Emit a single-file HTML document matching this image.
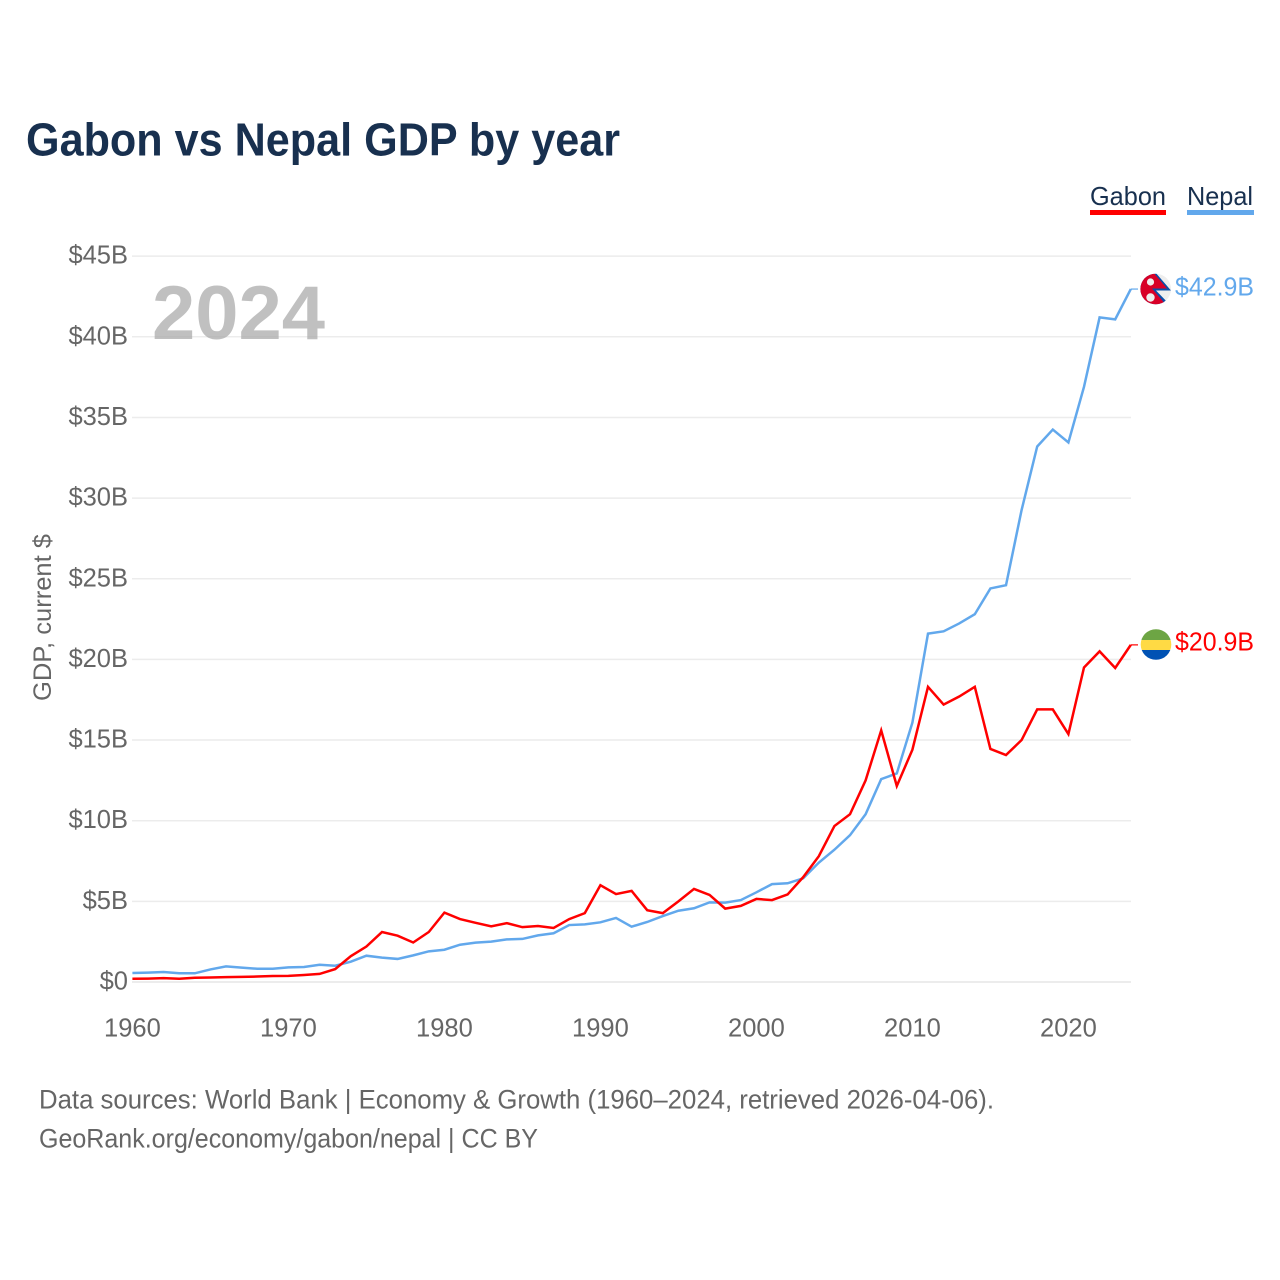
<!DOCTYPE html>
<html lang="en">
<head>
<meta charset="utf-8">
<title>Gabon vs Nepal GDP by year</title>
<style>
html,body{margin:0;padding:0;background:#fff;width:1280px;height:1280px;overflow:hidden}
svg{display:block;font-family:"Liberation Sans",sans-serif}
</style>
</head>
<body>
<svg id="chart" xmlns="http://www.w3.org/2000/svg" width="1280" height="1280" viewBox="0 0 1280 1280">
  <rect width="1280" height="1280" fill="#fff"/>
  <text x="26" y="155.5" font-size="46" font-weight="700" fill="#18304f" textLength="594" lengthAdjust="spacingAndGlyphs">Gabon vs Nepal GDP by year</text>

  <g>
    <text x="1090" y="205" font-size="26" fill="#18304f" textLength="76" lengthAdjust="spacingAndGlyphs">Gabon</text>
    <rect x="1090" y="210" width="76" height="5" fill="#ff0000"/>
  </g>
  <g>
    <text x="1187" y="205" font-size="26" fill="#18304f" textLength="66" lengthAdjust="spacingAndGlyphs">Nepal</text>
    <rect x="1187" y="210" width="67" height="5" fill="#62a8ec"/>
  </g>

  <g id="grid"></g>
  <g id="yticks"></g>
  <g id="xticks"></g>

  <text x="152" y="339" font-size="76" font-weight="700" fill="#a8a8a8" fill-opacity="0.72" textLength="173" lengthAdjust="spacingAndGlyphs">2024</text>

  <text transform="translate(51,701) rotate(-90)" font-size="25" fill="#666" textLength="167" lengthAdjust="spacingAndGlyphs">GDP, current $</text>

  <g id="series"></g>

  <defs>
    <clipPath id="clip-nepal"><circle cx="1155.7" cy="289" r="15.3"/></clipPath>
    <clipPath id="clip-gabon"><circle cx="1156" cy="644.5" r="15.3"/></clipPath>
  </defs>
  <g id="flag-nepal" clip-path="url(#clip-nepal)">
    <rect x="1140" y="273" width="32" height="32" fill="#eeeeee"/>
    <polygon points="1140,272 1155,272 1171,290.5 1156,290.5 1171,306 1140,306" fill="#0a4fa8"/>
    <polygon points="1140,272 1153,272 1167,288.5 1152,288.5 1167,306 1140,306" fill="#d80027"/>
    <circle cx="1150.5" cy="282" r="3.6" fill="#eee"/>
    <circle cx="1150.5" cy="297.5" r="4.2" fill="#eee"/>
  </g>
  <g id="flag-gabon" clip-path="url(#clip-gabon)">
    <rect x="1140" y="629" width="32" height="11" fill="#6da544"/>
    <rect x="1140" y="640" width="32" height="10" fill="#ffda44"/>
    <rect x="1140" y="650" width="32" height="11" fill="#0052b4"/>
  </g>

  <text x="1175" y="295.5" font-size="26" fill="#62a8ec" textLength="79" lengthAdjust="spacingAndGlyphs">$42.9B</text>
  <text x="1175" y="650.5" font-size="26" fill="#ff0000" textLength="79" lengthAdjust="spacingAndGlyphs">$20.9B</text>

  <text x="39" y="1108.5" font-size="27" fill="#666" textLength="955" lengthAdjust="spacingAndGlyphs">Data sources: World Bank | Economy &amp; Growth (1960–2024, retrieved 2026-04-06).</text>
  <a><text x="39" y="1147.5" font-size="27" fill="#666" textLength="499" lengthAdjust="spacingAndGlyphs">GeoRank.org/economy/gabon/nepal | CC BY</text></a>
</svg>

<script>
const startYear = 1960;
const yTicks = [0, 5, 10, 15, 20, 25, 30, 35, 40, 45];
const yTickLabels = ["$0", "$5B", "$10B", "$15B", "$20B", "$25B", "$30B", "$35B", "$40B", "$45B"];
const xTicks = [1960, 1970, 1980, 1990, 2000, 2010, 2020];
const xTickLabels = ["1960", "1970", "1980", "1990", "2000", "2010", "2020"];
const gabonValues = [0.2, 0.21, 0.24, 0.2, 0.26, 0.28, 0.3, 0.32, 0.34, 0.37, 0.38, 0.43, 0.5, 0.8, 1.6, 2.2, 3.1, 2.87, 2.45, 3.1, 4.3, 3.9, 3.67, 3.45, 3.65, 3.4, 3.47, 3.35, 3.9, 4.27, 6.0, 5.45, 5.65, 4.45, 4.27, 5.0, 5.77, 5.4, 4.55, 4.72, 5.15, 5.08, 5.43, 6.5, 7.8, 9.67, 10.4, 12.5, 15.6, 12.15, 14.4, 18.3, 17.2, 17.7, 18.3, 14.45, 14.07, 15.0, 16.9, 16.9, 15.37, 19.5, 20.5, 19.47, 20.9];
const nepalValues = [0.56, 0.58, 0.62, 0.54, 0.54, 0.78, 0.97, 0.89, 0.82, 0.82, 0.91, 0.93, 1.07, 1.01, 1.26, 1.63, 1.51, 1.43, 1.65, 1.9, 2.0, 2.31, 2.44, 2.5, 2.64, 2.67, 2.89, 3.02, 3.53, 3.57, 3.7, 3.97, 3.43, 3.72, 4.09, 4.42, 4.57, 4.94, 4.92, 5.08, 5.56, 6.07, 6.12, 6.43, 7.4, 8.2, 9.1, 10.4, 12.58, 12.93, 16.08, 21.6, 21.74, 22.23, 22.8, 24.4, 24.6, 29.26, 33.2, 34.25, 33.45, 36.9, 41.2, 41.08, 42.96];

const NS = 'http://www.w3.org/2000/svg';
function xScale(year) { return 132.4 + (year - 1960) * 15.6; }
function yScale(v) { return 982 - v * 16.13; }

const grid = document.getElementById('grid');
const yt = document.getElementById('yticks');
yTicks.forEach(function (t, i) {
  const ln = document.createElementNS(NS, 'line');
  
  
  ln.setAttribute('x1', 132);
  ln.setAttribute('x2', 1131);
  ln.setAttribute('y1', yScale(t));
  ln.setAttribute('y2', yScale(t));
  ln.setAttribute('stroke', '#ececec');
  ln.setAttribute('stroke-width', t === 0 ? 2 : 1.5);
  grid.appendChild(ln);
  const tx = document.createElementNS(NS, 'text');
  
  
  tx.setAttribute('x', 128);
  tx.setAttribute('y', yScale(t) + 7.5);
  tx.setAttribute('text-anchor', 'end');
  tx.setAttribute('font-size', 25.5);
  tx.setAttribute('fill', '#666');
  tx.textContent = yTickLabels[i];
  yt.appendChild(tx);
});

const xt = document.getElementById('xticks');
xTicks.forEach(function (t, i) {
  const tx = document.createElementNS(NS, 'text');
  
  
  tx.setAttribute('x', xScale(t));
  tx.setAttribute('y', 1036.5);
  tx.setAttribute('text-anchor', 'middle');
  tx.setAttribute('font-size', 25.5);
  tx.setAttribute('fill', '#666');
  tx.textContent = xTickLabels[i];
  xt.appendChild(tx);
});

function pathFrom(values) {
  return values.map(function (v, i) {
    return (i ? 'L' : 'M') + xScale(startYear + i).toFixed(2) + ' ' + yScale(v).toFixed(2);
  }).join(' ');
}
const seriesGroup = document.getElementById('series');

const nepalLine = document.createElementNS(NS, 'path');


nepalLine.setAttribute('d', pathFrom(nepalValues));
nepalLine.setAttribute('fill', 'none');
nepalLine.setAttribute('stroke', '#62a8ec');
nepalLine.setAttribute('stroke-width', 2.5);
seriesGroup.appendChild(nepalLine);

const gabonLine = document.createElementNS(NS, 'path');


gabonLine.setAttribute('d', pathFrom(gabonValues));
gabonLine.setAttribute('fill', 'none');
gabonLine.setAttribute('stroke', '#ff0000');
gabonLine.setAttribute('stroke-width', 2.5);
seriesGroup.appendChild(gabonLine);

const nepalEnd = nepalValues[nepalValues.length - 1];
const nepalConn = document.createElementNS(NS, 'line');


nepalConn.setAttribute('x1', xScale(2024));
nepalConn.setAttribute('x2', 1138);
nepalConn.setAttribute('y1', yScale(nepalEnd));
nepalConn.setAttribute('y2', yScale(nepalEnd));
nepalConn.setAttribute('stroke', '#62a8ec');
nepalConn.setAttribute('stroke-width', 1.2);
seriesGroup.appendChild(nepalConn);

const gabonEnd = gabonValues[gabonValues.length - 1];
const gabonConn = document.createElementNS(NS, 'line');


gabonConn.setAttribute('x1', xScale(2024));
gabonConn.setAttribute('x2', 1138);
gabonConn.setAttribute('y1', yScale(gabonEnd));
gabonConn.setAttribute('y2', yScale(gabonEnd));
gabonConn.setAttribute('stroke', '#ff0000');
gabonConn.setAttribute('stroke-width', 1.2);
seriesGroup.appendChild(gabonConn);
</script>
</body>
</html>
